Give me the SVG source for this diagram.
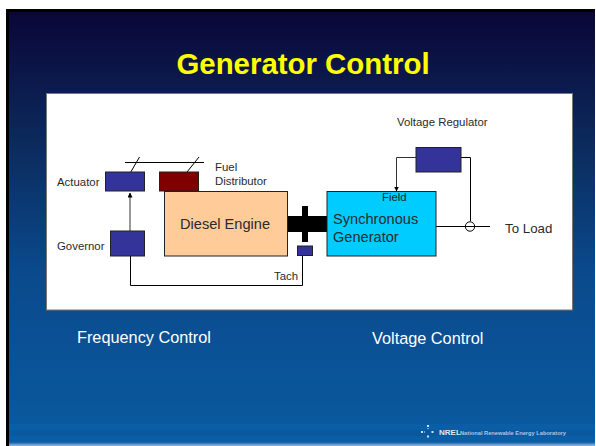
<svg xmlns="http://www.w3.org/2000/svg" width="596" height="446" viewBox="0 0 596 446">
<defs>
<linearGradient id="bg" x1="0" y1="0" x2="0" y2="1">
<stop offset="0" stop-color="#0b0638"/><stop offset="0.3" stop-color="#0c2a5c"/><stop offset="0.6" stop-color="#0a4a8c"/><stop offset="1" stop-color="#0a5aa0"/>
</linearGradient>
<linearGradient id="foot" x1="0" y1="0" x2="0" y2="1">
<stop offset="0" stop-color="#0a5aa0"/><stop offset="1" stop-color="#9dbce4"/>
</linearGradient>
<marker id="ah" markerWidth="5" markerHeight="5" refX="4.500" refY="2.500" orient="auto" markerUnits="userSpaceOnUse"><path d="M0 0L5 2.500L0 5Z" fill="#000"/></marker>
</defs>
<style>
text{font-family:"Liberation Sans",Arial,sans-serif;fill:#2a2a2a}
.s{font-size:11.400px}
.m{font-size:14.600px}
.c{fill:none;stroke:#000;stroke-width:1}
.b{fill:#333399;stroke:#222;stroke-width:1}
.f{font-size:16.300px;fill:#fff}
</style>
<rect width="596" height="446" fill="#fff"/>
<rect x="6" y="9" width="589" height="437" fill="#000"/>
<rect x="9" y="12" width="586" height="434" fill="url(#bg)"/>
<rect x="9" y="424" width="586" height="6" fill="#0a5eA6"/>
<rect x="9" y="436" width="586" height="6" fill="#0a5eA6"/>
<rect x="9" y="442" width="586" height="4" fill="url(#foot)"/>
<rect x="46.500" y="93.500" width="526" height="216.500" fill="#fff" stroke="#777" stroke-width="1"/>
<text x="303" y="74" text-anchor="middle" style="font-size:29.400px;font-weight:bold;fill:#ff0">Generator Control</text>
<g id="connectors">
<path class="c" d="M125 162.500H204"/>
<path class="c" d="M125 182L139.500 157"/>
<path class="c" d="M179 182L199 157"/>
<path d="M130 231V196" fill="none" stroke="#999" stroke-width="2"/>
<path d="M130 196V193" fill="none" stroke="#000" stroke-width="1" marker-end="url(#ah)"/>
<path class="c" d="M130.500 256V285.500H302.500V256"/>
<path d="M416 157.500H396.500V191" fill="none" stroke="#333" stroke-width="1" marker-end="url(#ah)"/>
<path class="c" d="M461 157.500H470.500V221"/>
<path class="c" d="M436 226.500H490"/>
<circle class="c" cx="470" cy="226.500" r="4.700"/>
</g>
<g id="shaft"><rect x="287" y="216" width="40" height="16" fill="#000"/><rect x="302" y="206" width="6" height="36" fill="#000"/></g>
<g id="actuator"><rect class="b" x="105.500" y="172" width="39" height="19"/><text class="s" x="57" y="186">Actuator</text></g>
<g id="distributor"><rect x="159.500" y="172" width="39" height="19" fill="#800000" stroke="#222"/><text class="s" x="215" y="171">Fuel</text><text class="s" x="215" y="185">Distributor</text></g>
<g id="governor"><rect class="b" x="110.500" y="231" width="34" height="25"/><text class="s" x="57" y="250">Governor</text></g>
<g id="engine"><rect x="164.500" y="191.500" width="123" height="64.500" fill="#ffcc99" stroke="#222"/><text class="m" x="180" y="229">Diesel Engine</text></g>
<g id="generator"><rect x="327" y="191.500" width="109" height="64.500" fill="#00ccff" stroke="#222"/><text class="s" x="382" y="201" style="fill:#222">Field</text><text class="m" x="333" y="224">Synchronous</text><text class="m" x="333" y="242">Generator</text></g>
<g id="tach"><rect class="b" x="297.500" y="246" width="15" height="9.500"/><text class="s" x="274" y="280">Tach</text></g>
<g id="regulator"><rect class="b" x="416" y="147.500" width="45" height="24.500"/><text class="s" x="397" y="126">Voltage Regulator</text></g>
<text x="505" y="232.500" style="font-size:13.300px">To Load</text>
<text class="f" x="77" y="343">Frequency Control</text>
<text class="f" x="372" y="344">Voltage Control</text>
<g id="logo"><path d="M428 425V439M421 432H435" stroke="#cfe0f4" stroke-width="2" stroke-dasharray="2 1.500"/><circle cx="428" cy="432" r="3" fill="#0a55a0"/><text x="439" y="435" style="font-size:8px;font-weight:bold;fill:#dce8f6">NREL</text><text x="460" y="435" textLength="106" lengthAdjust="spacingAndGlyphs" style="font-size:5.500px;font-weight:bold;fill:#a9c6e8">National Renewable Energy Laboratory</text></g>
</svg>
